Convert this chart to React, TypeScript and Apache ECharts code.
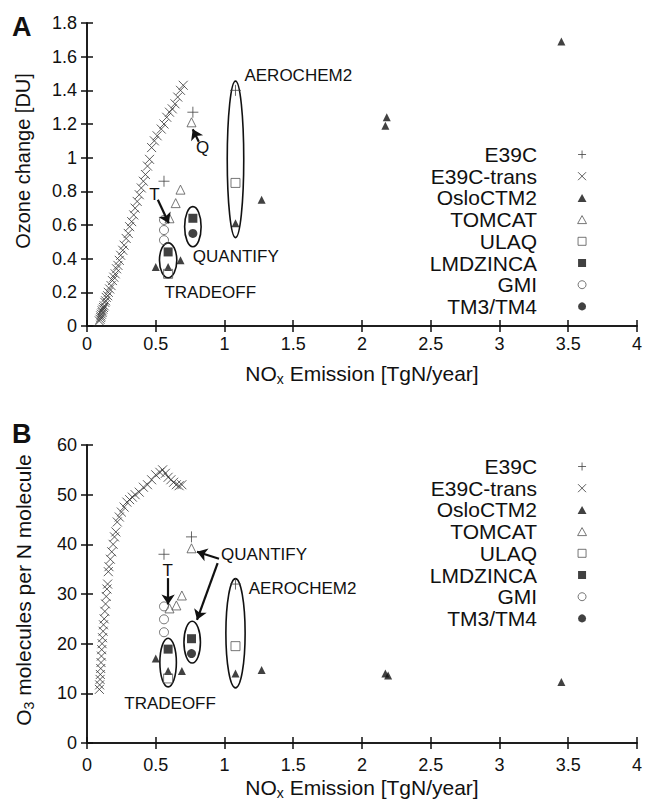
import React, { useEffect, useRef } from 'react';
import * as echarts from 'echarts';

const FONT = "'Liberation Sans', Arial, Helvetica, sans-serif";
const INK = '#111';

const modelNames = ['E39C', 'E39C-trans', 'OsloCTM2', 'TOMCAT', 'ULAQ', 'LMDZINCA', 'GMI', 'TM3/TM4'];

// ---- Panel A: ozone change [DU] vs NOx emission [TgN/year]
const e39cA = [[0.77, 1.27], [0.56, 0.86], [1.08, 1.4]];
const e39cTransA = [
  [0.09, 0.03], [0.095, 0.04], [0.1, 0.05], [0.1, 0.06], [0.105, 0.07], [0.11, 0.08], [0.11, 0.09],
  [0.115, 0.1], [0.12, 0.11], [0.125, 0.12], [0.13, 0.14], [0.135, 0.15], [0.14, 0.17], [0.15, 0.18],
  [0.155, 0.2], [0.165, 0.22], [0.175, 0.24], [0.185, 0.27], [0.195, 0.29], [0.205, 0.31], [0.215, 0.34],
  [0.225, 0.36], [0.235, 0.39], [0.245, 0.42], [0.26, 0.45], [0.27, 0.48], [0.285, 0.52], [0.3, 0.55],
  [0.31, 0.59], [0.325, 0.62], [0.34, 0.66], [0.35, 0.7], [0.365, 0.74], [0.38, 0.78], [0.395, 0.82],
  [0.41, 0.86], [0.425, 0.9], [0.44, 0.95], [0.455, 0.99], [0.47, 1.06], [0.49, 1.1], [0.51, 1.13],
  [0.54, 1.17], [0.56, 1.2], [0.58, 1.24], [0.6, 1.27], [0.62, 1.29], [0.64, 1.32], [0.66, 1.36],
  [0.68, 1.4], [0.7, 1.43],
];
const osloA = [[0.5, 0.35], [0.59, 0.35], [0.68, 0.39], [1.08, 0.61], [1.27, 0.75], [2.18, 1.24], [2.17, 1.19], [3.45, 1.69]];
const tomcatA = [[0.76, 1.21], [0.68, 0.81], [0.645, 0.73], [0.6, 0.64]];
const ulaqA = [[1.08, 0.85], [0.59, 0.31]];
const lmdzA = [[0.59, 0.44], [0.77, 0.64]];
const gmiA = [[0.56, 0.63], [0.56, 0.57], [0.56, 0.51]];
const tm3A = [[0.77, 0.55]];

// ---- Panel B: O3 molecules per N molecule vs NOx emission
const e39cB = [[0.76, 41.5], [0.56, 38], [1.08, 32]];
const e39cTransB = [
  [0.09, 10.8], [0.092, 11.7], [0.095, 12.8], [0.097, 13.8], [0.1, 15], [0.102, 16.2], [0.105, 17.5],
  [0.107, 18.8], [0.11, 20], [0.113, 21.2], [0.117, 22.5], [0.12, 23.8], [0.125, 25], [0.13, 26.5],
  [0.135, 28], [0.14, 29.5], [0.145, 31], [0.15, 32], [0.155, 34.5], [0.16, 35.5], [0.17, 37],
  [0.18, 38.5], [0.19, 40], [0.2, 41.5], [0.21, 42.5], [0.22, 44.5], [0.235, 45.5], [0.25, 46.5],
  [0.27, 47.5], [0.29, 48.5], [0.31, 49], [0.33, 49.5], [0.35, 50], [0.38, 50.5], [0.41, 51.5],
  [0.44, 52], [0.47, 53], [0.5, 54], [0.53, 54.5], [0.55, 55], [0.57, 54.3], [0.59, 53.5], [0.61, 53],
  [0.63, 52.5], [0.65, 52], [0.67, 51.8], [0.69, 52],
];
const osloB = [[0.5, 17], [0.59, 14.5], [0.69, 14.5], [1.08, 14], [1.27, 14.7], [2.17, 14], [2.19, 13.6], [3.45, 12.3]];
const tomcatB = [[0.76, 39.2], [0.69, 29.7], [0.65, 27.7], [0.6, 27.1]];
const ulaqB = [[1.08, 19.5], [0.59, 13.0]];
const lmdzB = [[0.59, 18.9], [0.76, 21]];
const gmiB = [[0.56, 27.5], [0.56, 24.9], [0.56, 22.3]];
const tm3B = [[0.76, 18]];

// annotation ellipses: centre x, centre y, half-width, half-height (data units)
const ellipsesA = [[0.59, 0.39, 0.063, 0.104], [0.77, 0.59, 0.06, 0.119], [1.08, 0.99, 0.06, 0.465]];
const ellipsesB = [[0.59, 16.2, 0.06, 4.9], [0.765, 20.3, 0.06, 4.2], [1.08, 22.1, 0.07, 11]];

// annotation texts (data coordinates)
const labelsA = [
  { text: 'AEROCHEM2', x: 1.145, y: 1.49, align: 'left' },
  { text: 'Q', x: 0.84, y: 1.06, align: 'center' },
  { text: 'T', x: 0.49, y: 0.78, align: 'center' },
  { text: 'QUANTIFY', x: 0.77, y: 0.41, align: 'left' },
  { text: 'TRADEOFF', x: 0.563, y: 0.2, align: 'left' },
];
const labelsB = [
  { text: 'QUANTIFY', x: 0.975, y: 38, align: 'left' },
  { text: 'AEROCHEM2', x: 1.176, y: 31.2, align: 'left' },
  { text: 'T', x: 0.587, y: 34.8, align: 'center' },
  { text: 'TRADEOFF', x: 0.271, y: 7.9, align: 'left' },
];

// annotation arrows: from (x, y) to (x, y)
const arrowsA = [[0.515, 0.75, 0.595, 0.61], [0.813, 1.095, 0.769, 1.169]];
const arrowsB = [[0.59, 33.2, 0.59, 27.9], [0.96, 37.1, 0.8, 38.5], [0.95, 36.2, 0.8, 24.8]];

const PLUS = 'path://M5,0L5,10M0,5L10,5';
const CROSS = 'path://M0,0L10,10M0,10L10,0';
const TRI = 'path://M5,0L10,9L0,9Z';
const SQUARE = 'path://M0,0L10,0L10,10L0,10Z';

const markerStyle: Record<string, any> = {
  'E39C': { symbol: PLUS, size: 11, itemStyle: { color: 'transparent', borderColor: '#444', borderWidth: 1 } },
  'E39C-trans': { symbol: CROSS, size: 9, itemStyle: { color: 'transparent', borderColor: '#333', borderWidth: 1 } },
  'OsloCTM2': { symbol: TRI, size: 8, itemStyle: { color: INK } },
  'TOMCAT': { symbol: TRI, size: 9, itemStyle: { color: 'transparent', borderColor: '#555', borderWidth: 1 } },
  'ULAQ': { symbol: SQUARE, size: 9, itemStyle: { color: 'transparent', borderColor: '#555', borderWidth: 1 } },
  'LMDZINCA': { symbol: SQUARE, size: 9, itemStyle: { color: INK } },
  'GMI': { symbol: 'circle', size: 9, itemStyle: { color: 'transparent', borderColor: '#555', borderWidth: 1 } },
  'TM3/TM4': { symbol: 'circle', size: 9, itemStyle: { color: INK } },
};

const panelAData = [e39cA, e39cTransA, osloA, tomcatA, ulaqA, lmdzA, gmiA, tm3A];
const panelBData = [e39cB, e39cTransB, osloB, tomcatB, ulaqB, lmdzB, gmiB, tm3B];

const axisLineStyle = { color: INK, width: 1.5 };

function xAxes(labelMargin: number, nameGap: number) {
  return [
    {
      type: 'value', min: 0, max: 4, interval: 0.5, position: 'bottom',
      name: '{n|NO}{s|x}{n| Emission [TgN/year]}', nameLocation: 'middle', nameGap,
      nameTextStyle: {
        rich: {
          n: { fontSize: 21, fontFamily: FONT, color: INK, lineHeight: 26 },
          s: { fontSize: 14, fontFamily: FONT, color: INK, lineHeight: 26, verticalAlign: 'bottom' },
        },
      },
      axisLine: { show: true, lineStyle: axisLineStyle },
      axisTick: { show: true, inside: true, length: 6, lineStyle: axisLineStyle },
      axisLabel: { fontSize: 18, fontFamily: FONT, color: INK, margin: labelMargin },
      splitLine: { show: false },
    },
    {
      type: 'value', min: 0, max: 4, interval: 0.5, position: 'top',
      axisLine: { show: true, lineStyle: axisLineStyle },
      axisTick: { show: true, inside: true, length: 6, lineStyle: axisLineStyle },
      axisLabel: { show: false }, splitLine: { show: false },
    },
  ];
}

function yAxes(max: number, interval: number) {
  return [
    {
      type: 'value', min: 0, max, interval, position: 'left',
      axisLine: { show: true, lineStyle: axisLineStyle },
      axisTick: { show: true, inside: true, length: 6, lineStyle: axisLineStyle },
      axisLabel: { fontSize: 18, fontFamily: FONT, color: INK, margin: 10 },
      splitLine: { show: false },
    },
    {
      type: 'value', min: 0, max, interval, position: 'right',
      axisLine: { show: true, lineStyle: axisLineStyle },
      axisTick: { show: true, inside: true, length: 6, lineStyle: axisLineStyle },
      axisLabel: { show: false }, splitLine: { show: false },
    },
  ];
}

function scatterSeries(datas: number[][][], axisIndex: number) {
  return modelNames.map((name, i) => ({
    type: 'scatter', name, data: datas[i], xAxisIndex: axisIndex, yAxisIndex: axisIndex,
    symbol: markerStyle[name].symbol, symbolSize: markerStyle[name].size,
    itemStyle: markerStyle[name].itemStyle, z: 4, silent: true,
    emphasis: { disabled: true },
  }));
}

function ellipseSeries(data: number[][], axisIndex: number) {
  return {
    type: 'custom', xAxisIndex: axisIndex, yAxisIndex: axisIndex, data, silent: true, z: 3,
    encode: { x: 0, y: 1 },
    renderItem: (_p: any, api: any) => {
      const c = api.coord([api.value(0), api.value(1)]);
      const s = api.size([api.value(2), api.value(3)]);
      return {
        type: 'ellipse',
        shape: { cx: c[0], cy: c[1], rx: s[0], ry: s[1] },
        style: { fill: 'none', stroke: INK, lineWidth: 1.6 },
      };
    },
  };
}

function labelSeries(labels: any[], axisIndex: number) {
  return {
    type: 'custom', xAxisIndex: axisIndex, yAxisIndex: axisIndex, silent: true, z: 5,
    data: labels.map((l) => [l.x, l.y]),
    encode: { x: 0, y: 1 },
    renderItem: (p: any, api: any) => {
      const l = labels[p.dataIndex];
      const c = api.coord([api.value(0), api.value(1)]);
      return {
        type: 'text', x: c[0], y: c[1],
        style: { text: l.text, fontSize: 17, fontFamily: FONT, fill: INK, align: l.align, verticalAlign: 'middle' },
      };
    },
  };
}

function arrowSeries(arrows: number[][], axisIndex: number) {
  return {
    type: 'lines', coordinateSystem: 'cartesian2d', xAxisIndex: axisIndex, yAxisIndex: axisIndex,
    silent: true, z: 5,
    data: arrows.map((a) => ({ coords: [[a[0], a[1]], [a[2], a[3]]] })),
    symbol: ['none', 'arrow'], symbolSize: 10,
    lineStyle: { color: INK, width: 2.2, opacity: 1 },
  };
}

function legend(top: number) {
  return {
    orient: 'vertical', right: 58, top, align: 'right', padding: 0,
    itemWidth: 80, itemHeight: 8, itemGap: 0.7, selectedMode: false,
    textStyle: { fontSize: 21, fontFamily: FONT, color: INK, lineHeight: 21 },
    data: modelNames.map((name) => ({
      name, icon: markerStyle[name].symbol, itemStyle: markerStyle[name].itemStyle,
    })),
  };
}

export default function App() {
  const ref = useRef<HTMLDivElement>(null);
  useEffect(() => {
    document.body.style.margin = '0';
    if (!ref.current) return;
    const chart = echarts.init(ref.current, null, { renderer: 'svg' });
    const xs = [...xAxes(9, 34), ...xAxes(13, 31)].map((a, i) => ({ ...a, gridIndex: i < 2 ? 0 : 1 }));
    const ys = [...yAxes(1.8, 0.2), ...yAxes(60, 10)].map((a, i) => ({ ...a, gridIndex: i < 2 ? 0 : 1 }));
    chart.setOption({
      animation: false,
      backgroundColor: '#fff',
      grid: [
        { left: 87, right: 6, top: 23, height: 303 },
        { left: 87, right: 6, top: 445, height: 300 },
      ],
      xAxis: xs,
      yAxis: ys,
      legend: [legend(144), legend(456)],
      graphic: [
        { type: 'text', left: 12, top: 13, style: { text: 'A', fontSize: 27, fontWeight: 'bold', fontFamily: FONT, fill: INK } },
        { type: 'text', left: 12, top: 420, style: { text: 'B', fontSize: 27, fontWeight: 'bold', fontFamily: FONT, fill: INK } },
        {
          type: 'text', x: 23, y: 161, rotation: Math.PI / 2,
          style: { text: 'Ozone change [DU]', fontSize: 20, fontFamily: FONT, fill: INK, align: 'center', verticalAlign: 'middle' },
        },
        {
          type: 'text', x: 23, y: 590, rotation: Math.PI / 2,
          style: {
            text: '{n|O}{s|3}{n| molecules per N molecule}', align: 'center', verticalAlign: 'middle',
            rich: {
              n: { fontSize: 21, fontFamily: FONT, fill: INK, lineHeight: 26 },
              s: { fontSize: 14, fontFamily: FONT, fill: INK, lineHeight: 26, verticalAlign: 'bottom' },
            },
          },
        },
      ],
      series: [
        ellipseSeries(ellipsesA, 0),
        ellipseSeries(ellipsesB, 2),
        ...scatterSeries(panelAData, 0),
        ...scatterSeries(panelBData, 2),
        labelSeries(labelsA, 0),
        labelSeries(labelsB, 2),
        arrowSeries(arrowsA, 0),
        arrowSeries(arrowsB, 2),
      ],
    });
    return () => chart.dispose();
  }, []);
  return <div ref={ref} style={{ width: 645, height: 801 }} />;
}
